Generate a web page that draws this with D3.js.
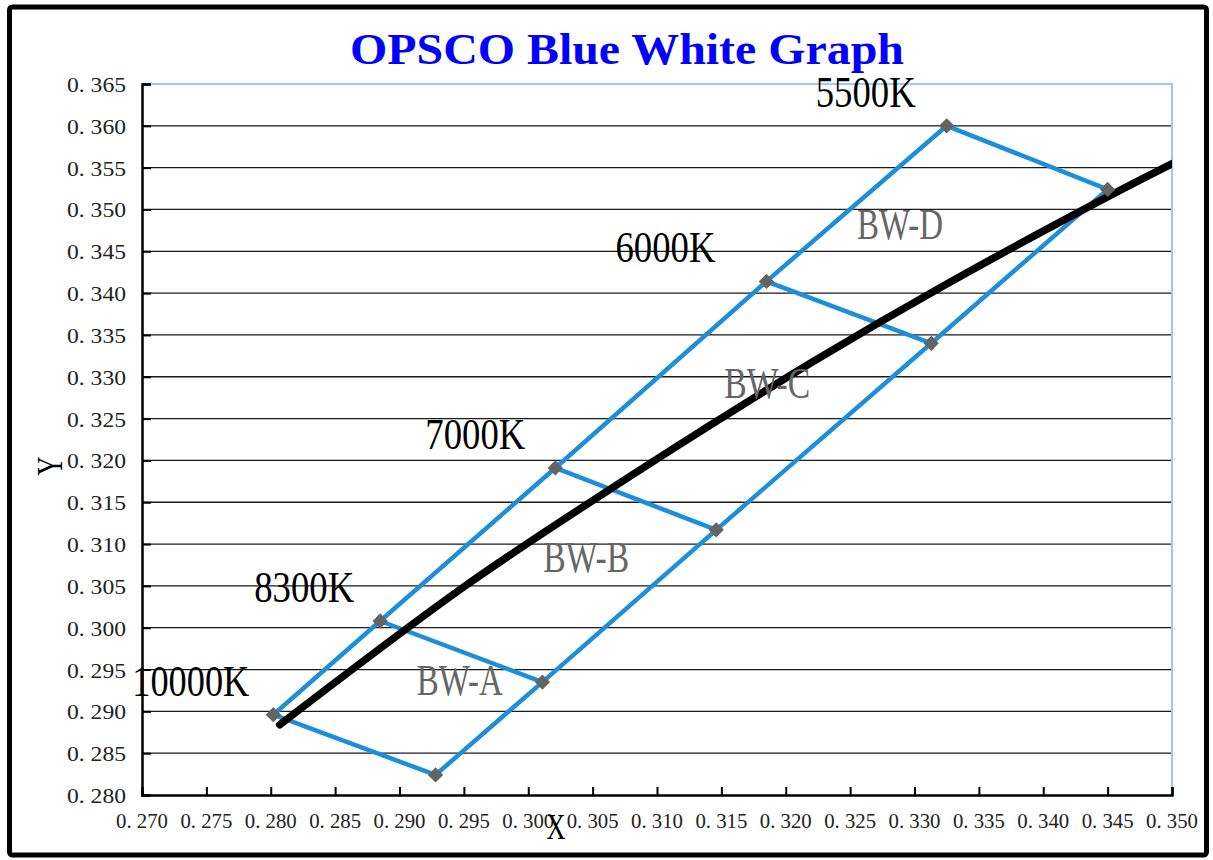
<!DOCTYPE html>
<html lang="en">
<head>
<meta charset="utf-8">
<title>OPSCO Blue White Graph</title>
<script src="https://cdn.jsdelivr.net/npm/d3@7"></script>
<style>
  body { margin: 0; background: #fff; }
  text { font-family: "Liberation Serif", "DejaVu Serif", serif; }
</style>
</head>
<body>
<svg id="chart" width="1213" height="860"></svg>
<script>
// bin corner points (CIE x, y)
var temps  = ["10000K", "8300K", "7000K", "6000K", "5500K"];
var upperX = [0.2802, 0.2885, 0.3021, 0.3185, 0.3325];
var upperY = [0.2896, 0.3008, 0.3191, 0.3414, 0.3600];
var lowerX = [0.2928, 0.3011, 0.3146, 0.3313, 0.3450];
var lowerY = [0.2824, 0.2935, 0.3117, 0.3340, 0.3524];

// black body curve
var locusX = [0.2807, 0.2952, 0.3064, 0.3135, 0.3221, 0.3324, 0.3451, 0.3512];
var locusY = [0.2884, 0.3051, 0.3166, 0.3236, 0.3318, 0.3410, 0.3516, 0.3564];

var bins = ["BW-A", "BW-B", "BW-C", "BW-D"];

var xTicks = d3.range(0, 17).map(i => +(0.270 + i * 0.005).toFixed(3));
var yTicks = d3.range(0, 18).map(i => +(0.280 + i * 0.005).toFixed(3));

var svg = d3.select("#chart"),
    margin = {top: 84, left: 142, bottom: 65, right: 41},
    W = +svg.attr("width"), H = +svg.attr("height");

var x = d3.scaleLinear().domain([0.270, 0.350]).range([margin.left, W - margin.right]);
var y = d3.scaleLinear().domain([0.280, 0.365]).range([H - margin.bottom, margin.top]);

var fmt = v => v.toFixed(3).replace(".", ". ");

// outer frame
svg.append("rect")
  .attr("x", 9.5).attr("y", 7).attr("width", 1197).attr("height", 848)
  .attr("rx", 3)
  .attr("fill", "#fff").attr("stroke", "#000").attr("stroke-width", 5);

// title
svg.append("text")
  .attr("x", 627).attr("y", 64)
  .attr("text-anchor", "middle")
  .attr("font-size", "44px").attr("font-weight", "bold")
  .attr("fill", "#0000ff")
  .attr("textLength", 554).attr("lengthAdjust", "spacingAndGlyphs")
  .text("OPSCO Blue White Graph");

// horizontal grid
svg.append("g").selectAll("line")
  .data(yTicks.filter(d => d > 0.280 && d < 0.365))
  .enter().append("line")
  .attr("x1", x(0.270)).attr("x2", x(0.350))
  .attr("y1", d => y(d)).attr("y2", d => y(d))
  .attr("stroke", "#1a1a1a").attr("stroke-width", 1.3);

// plot border top/right (light blue)
svg.append("path")
  .attr("d", `M${x(0.270)},${y(0.365)}H${x(0.350)}V${y(0.280)}`)
  .attr("fill", "none").attr("stroke", "#9ccbf2").attr("stroke-width", 2);

// axes
svg.append("g")
  .attr("transform", `translate(0,${y(0.280)})`)
  .call(d3.axisTop(x).tickValues(xTicks).tickSize(8).tickFormat(""))
  .call(g => g.select(".domain").attr("stroke-width", 2.5))
  .call(g => g.selectAll(".tick line").attr("stroke-width", 2));

svg.append("g")
  .attr("transform", `translate(${x(0.270)},0)`)
  .call(d3.axisRight(y).tickValues(yTicks).tickSize(9).tickFormat(""))
  .call(g => g.select(".domain").attr("stroke-width", 2.5))
  .call(g => g.selectAll(".tick line").attr("stroke-width", 2));

// tick labels
svg.append("g").selectAll("text")
  .data(xTicks).enter().append("text")
  .attr("x", d => x(d)).attr("y", 828)
  .attr("text-anchor", "middle")
  .attr("font-size", "21px").attr("fill", "#222")
  .attr("textLength", 52).attr("lengthAdjust", "spacingAndGlyphs")
  .text(fmt);

svg.append("g").selectAll("text")
  .data(yTicks).enter().append("text")
  .attr("x", x(0.270) - 16).attr("y", d => y(d) + 8)
  .attr("text-anchor", "end")
  .attr("font-size", "22px").attr("fill", "#222")
  .attr("textLength", 59).attr("lengthAdjust", "spacingAndGlyphs")
  .text(fmt);

// axis titles
svg.append("text")
  .attr("x", 556).attr("y", 839)
  .attr("text-anchor", "middle")
  .attr("font-size", "36px")
  .attr("textLength", 19).attr("lengthAdjust", "spacingAndGlyphs")
  .text("X");

svg.append("text")
  .attr("transform", "translate(62,466) rotate(-90)")
  .attr("text-anchor", "middle")
  .attr("font-size", "36px")
  .attr("textLength", 19).attr("lengthAdjust", "spacingAndGlyphs")
  .text("Y");

svg.append("clipPath").attr("id", "plot")
  .append("rect")
  .attr("x", x(0.270)).attr("y", y(0.365))
  .attr("width", x(0.350) - x(0.270)).attr("height", y(0.280) - y(0.365));

var line = d3.line().x(d => x(d[0])).y(d => y(d[1]));
var upper = upperX.map((v, i) => [v, upperY[i]]);
var lower = lowerX.map((v, i) => [v, lowerY[i]]);

var blue = svg.append("g").attr("fill", "none")
  .attr("stroke", "#1c8fdb").attr("stroke-width", 4.5);

blue.append("path").attr("d", line(upper));
blue.append("path").attr("d", line(lower));
blue.selectAll(".cross")
  .data(temps.map((t, i) => [upper[i], lower[i]]))
  .enter().append("path")
  .attr("class", "cross")
  .attr("d", d => line(d));

// black body curve
svg.append("path")
  .datum(locusX.map((v, i) => [v, locusY[i]]))
  .attr("clip-path", "url(#plot)")
  .attr("fill", "none").attr("stroke", "#000")
  .attr("stroke-width", 7.5).attr("stroke-linecap", "round")
  .attr("d", d3.line().x(d => x(d[0])).y(d => y(d[1])).curve(d3.curveCatmullRom));

// markers
svg.append("g").selectAll("path")
  .data(upper.concat(lower)).enter().append("path")
  .attr("transform", d => `translate(${x(d[0])},${y(d[1])})`)
  .attr("d", d3.symbol(d3.symbolDiamond2, 150))
  .attr("fill", "#646464");

// temperature labels
var tdx = [-24, -26, -30, -51, -31];
svg.append("g").selectAll("text")
  .data(temps).enter().append("text")
  .attr("x", (d, i) => x(upperX[i]) + tdx[i])
  .attr("y", (d, i) => y(upperY[i]) - 19)
  .attr("text-anchor", "end")
  .attr("font-size", "44px")
  .attr("textLength", d => d.length * 17 + 15)
  .attr("lengthAdjust", "spacingAndGlyphs")
  .text(d => d);

// bin labels
var bdx = [52, 38, 24, -37], bdy = [-3, -3, -8, 4];
svg.append("g").selectAll("text")
  .data(bins).enter().append("text")
  .attr("x", (d, i) => (x(upperX[i]) + x(lowerX[i + 1])) / 2 + bdx[i])
  .attr("y", (d, i) => (y(upperY[i]) + y(lowerY[i + 1])) / 2 + bdy[i])
  .attr("text-anchor", "middle")
  .attr("font-size", "44px").attr("fill", "#666")
  .attr("textLength", 86).attr("lengthAdjust", "spacingAndGlyphs")
  .text(d => d);
</script>
</body>
</html>
